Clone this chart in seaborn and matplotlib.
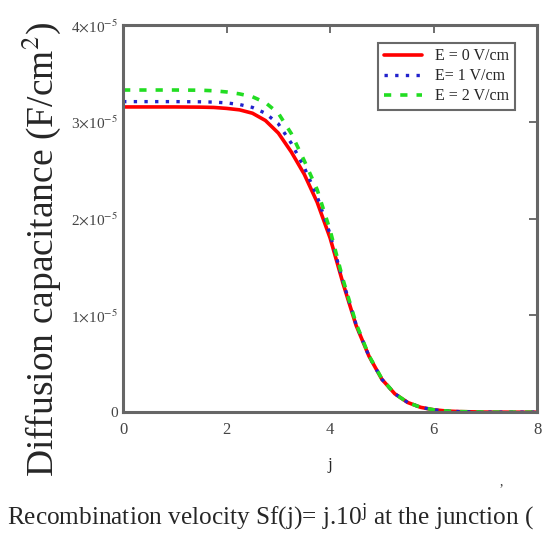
import numpy as np
import pandas as pd
import matplotlib
matplotlib.use("Agg")
import matplotlib.pyplot as plt
import seaborn as sns

j_vals = [0, 0.5, 1, 1.5, 1.75, 2, 2.25, 2.5, 2.75, 3, 3.25, 3.5, 3.75, 4, 4.25, 4.5, 4.75, 5, 5.25, 5.5, 5.75, 6, 6.25, 6.5, 7, 7.5, 8]
c_e0 = [3.155, 3.155, 3.155, 3.153, 3.15, 3.14, 3.125, 3.09, 3.015, 2.885, 2.69, 2.46, 2.17, 1.80, 1.33, 0.90, 0.58, 0.34, 0.19, 0.10, 0.05, 0.025, 0.012, 0.006, 0.001, 0.0, 0.0]
c_e1 = [3.21, 3.21, 3.21, 3.208, 3.205, 3.197, 3.18, 3.15, 3.09, 2.98, 2.78, 2.53, 2.23, 1.84, 1.35, 0.91, 0.58, 0.34, 0.19, 0.10, 0.05, 0.025, 0.012, 0.006, 0.001, 0.0, 0.0]
c_e2 = [3.33, 3.33, 3.33, 3.328, 3.322, 3.31, 3.29, 3.26, 3.20, 3.09, 2.88, 2.60, 2.30, 1.88, 1.37, 0.92, 0.585, 0.345, 0.19, 0.10, 0.05, 0.025, 0.012, 0.006, 0.001, 0.0, 0.0]
labels = ["E = 0 V/cm", "E= 1 V/cm", "E = 2 V/cm"]
yticks = [0, 1e-5, 2e-5, 3e-5, 4e-5]
ytick_labels = ["0", r"1$\times$10$^{-5}$", r"2$\times$10$^{-5}$", r"3$\times$10$^{-5}$", r"4$\times$10$^{-5}$"]
xticks = [0, 2, 4, 6, 8]

rows = []
for lab, vals in zip(labels, [c_e0, c_e1, c_e2]):
    for jj, v in zip(j_vals, vals):
        rows.append({"j": jj, "C": v * 1e-5, "E": lab})
df = pd.DataFrame(rows)

sns.set_style("white")
plt.rcParams['font.family'] = ['Liberation Serif', 'DejaVu Serif']
plt.rcParams['mathtext.fontset'] = 'stix'

fig = plt.figure(figsize=(5.47, 5.36), dpi=100)
ax = fig.add_axes([0.225, 0.231, 0.757, 0.722])

palette = {labels[0]: "#ff0000", labels[1]: "#2222cc", labels[2]: "#22dd22"}
sns.lineplot(data=df, x="j", y="C", hue="E", palette=palette, ax=ax, legend=False, linewidth=2.6)
lines = ax.get_lines()
lines[0].set_linestyle("-")
lines[1].set_linestyle((0, (1, 2.2)))
lines[1].set_linewidth(2.4)
lines[2].set_linestyle((0, (2, 2.5)))
lines[2].set_linewidth(2.6)
for ln, lab in zip(lines, labels):
    ln.set_label(lab)
    ln.set_solid_joinstyle("round")
    ln.set_dash_joinstyle("round")

ax.set_xlim(0, 8)
ax.set_ylim(0, 4e-5)
ax.set_xticks(xticks)
ax.set_xticklabels([str(x) for x in xticks], fontsize=12, color="#444444")
ax.set_yticks(yticks)
ax.set_yticklabels(ytick_labels, fontsize=11, color="#444444")
ax.tick_params(direction="in", length=6, width=1.2, color="#555555", top=True, right=True, pad=4)
ax.tick_params(axis="x", pad=7)
for s in ax.spines.values():
    s.set_color("#666666")
    s.set_linewidth(2.2)
ax.set_xlabel("j", fontsize=12, labelpad=14)
ax.set_ylabel("")

leg = ax.legend(loc="upper right", bbox_to_anchor=(0.965, 0.975), fontsize=11.5, frameon=True,
                fancybox=False, handlelength=2.4, borderpad=0.35, labelspacing=0.25)
leg.get_frame().set_edgecolor("#444444")
leg.get_frame().set_linewidth(1.5)

fig.text(0.075, 0.534, "Diffusion capacitance (F/cm$^{2}$)", rotation=90, ha="center", va="center", fontsize=27)
fig.text(0.012, 0.022, "Recombination velocity Sf(j)= j.10$^{\\mathregular{j}}$ at the junction (", ha="left", va="baseline", fontsize=18.2)
fig.text(0.913, 0.095, ",", fontsize=10, color="#333333")

fig.savefig("out.png", dpi=100)
